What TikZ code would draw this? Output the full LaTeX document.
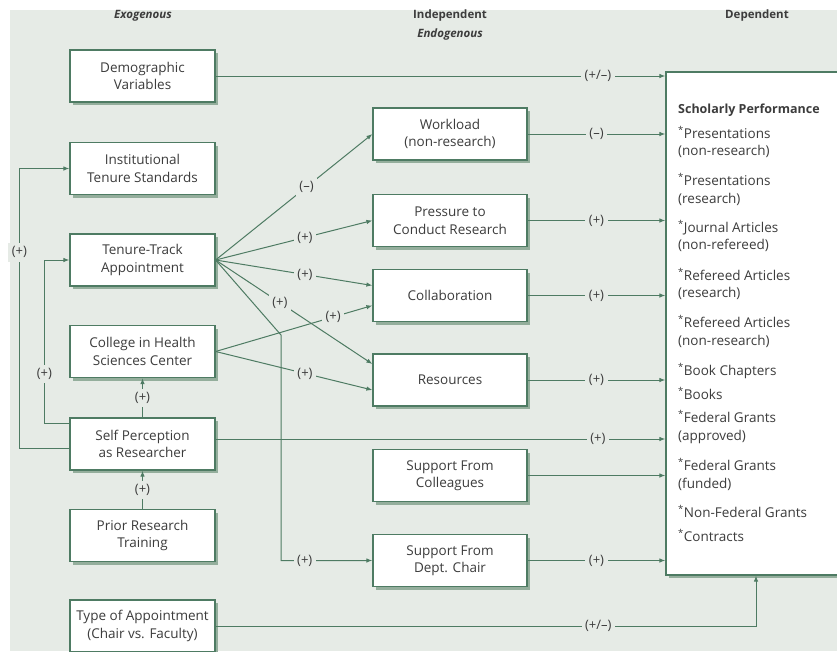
\documentclass[tikz,border=0pt]{standalone}
\usepackage{fontspec}
\setmainfont{Open Sans}
\usetikzlibrary{arrows.meta, shadows}

\definecolor{bggreen}{HTML}{E6EBE6}
\definecolor{linegreen}{HTML}{4E7B63}
\definecolor{shadowgreen}{HTML}{94AE9C}
\definecolor{txtgray}{HTML}{3C3C3C}

\tikzset{
  varbox/.style={draw=linegreen, line width=1.2pt, fill=white, align=center, minimum height=52pt, text=txtgray, font=\fontsize{13.5}{17.5}\selectfont, drop shadow={shadow xshift=3pt, shadow yshift=-3pt, fill=shadowgreen, opacity=1}},
  leftbox/.style={varbox, minimum width=145pt},
  midbox/.style={varbox, minimum width=154pt},
  link/.style={draw=linegreen, line width=1pt, -{Latex[length=6pt,width=4.5pt]}},
  sign/.style={fill=bggreen, text=txtgray, inner sep=3.5pt, font=\fontsize{13}{15}\selectfont},
  heading/.style={text=txtgray, font=\fontsize{11.5}{13}\selectfont\bfseries},
  perfline/.style={anchor=west, inner sep=0pt, text=txtgray, font=\fontsize{13.5}{16}\selectfont, text height=10pt, text depth=3pt}
}

\begin{document}
\begin{tikzpicture}[x=1pt, y=-1pt]
        \useasboundingbox (0,0) rectangle (837,651);
        \fill[bggreen] (10,10) rectangle (837,651);

        % Headings
        \node[heading] (hexo) at (143,16) {\itshape Exogenous};
        \node[heading] (hind) at (450,16) {Independent};
        \node[heading] (hendo) at (450,35) {\itshape Endogenous};
        \node[heading] (hdep) at (757,16) {Dependent};

        % Exogenous
        \node[leftbox] (demo) at (142.5,76) {Demographic\\Variables};
        \node[leftbox] (inst) at (142.5,168.5) {Institutional\\Tenure Standards};
        \node[leftbox] (tenure) at (142.5,260) {Tenure-Track\\Appointment};
        \node[leftbox] (college) at (142.5,351.5) {College in Health\\Sciences Center};
        \node[leftbox] (self) at (142.5,444) {Self Perception\\as Researcher};
        \node[leftbox] (prior) at (142.5,535.5) {Prior Research\\Training};
        \node[leftbox] (type) at (142.5,626) {Type of Appointment\\(Chair vs. Faculty)};

        % Endogenous
        \node[midbox] (work) at (450,134) {Workload\\(non-research)};
        \node[midbox] (press) at (450,220.5) {Pressure to\\Conduct Research};
        \node[midbox] (collab) at (450,295.5) {Collaboration};
        \node[midbox] (res) at (450,380) {Resources};
        \node[midbox] (colleag) at (450,475.5) {Support From\\Colleagues};
        \node[midbox] (chair) at (450,560.5) {Support From\\Dept. Chair};

        % Dependent
        \node[varbox, minimum width=200pt, minimum height=503pt] (perf) at (766,323.5) {};
        \foreach \yy/\txt [count=\i] in {110/{\fontsize{12.5}{15}\selectfont\textbf{Scholarly Performance}},
            135/{\textsuperscript{*}Presentations}, 152/{(non-research)},
            182/{\textsuperscript{*}Presentations}, 200/{(research)},
            229/{\textsuperscript{*}Journal Articles}, 246/{(non-refereed)},
            277/{\textsuperscript{*}Refereed Articles}, 294/{(research)},
            324/{\textsuperscript{*}Refereed Articles}, 342/{(non-research)},
            372/{\textsuperscript{*}Book Chapters}, 396/{\textsuperscript{*}Books},
            419/{\textsuperscript{*}Federal Grants}, 437/{(approved)},
            467/{\textsuperscript{*}Federal Grants}, 485/{(funded)},
            514/{\textsuperscript{*}Non-Federal Grants}, 538/{\textsuperscript{*}Contracts}}
          \node[perfline] (p\i) at (678,\yy) {\txt};

        % Tenure-track fan
        \coordinate (bend) at (281,335);
        \draw[link] (tenure.east) -- node[sign, pos=0.58] {(–)} (work.west);
        \draw[link] (tenure.east) -- node[sign, pos=0.57] {(+)} (press.west);
        \draw[link] (tenure.east) -- node[sign, pos=0.57] {(+)} ([yshift=10pt]collab.west);
        \draw[link] (tenure.east) -- node[sign, pos=0.41] {(+)} ([yshift=16pt]res.west);
        \draw[link] (tenure.east) -- (bend) |- node[sign, pos=0.63] {(+)} (chair.west);

        % College
        \draw[link] (college.east) -- node[sign, pos=0.75] {(+)} ([yshift=-10pt]collab.west);
        \draw[link] (college.east) -- node[sign, pos=0.57] {(+)} ([yshift=-10pt]res.west);

        % Self perception
        \draw[link] (self.north) -- node[sign] {(+)} (college.south);
        \draw[link] (prior.north) -- node[sign] {(+)} (self.south);
        \draw[link] ([yshift=21pt]self.west) -- ++(-25,0) |- node[sign, pos=0.15] {(+)} (tenure.west);
        \draw[link] ([yshift=-4pt]self.west) -- ++(-50,0) |- node[sign, pos=0.35] {(+)} (inst.west);

        % Into scholarly performance
        \draw[link] (demo.east) -- node[sign, pos=0.85] {(+/–)} (demo.east -| perf.west);
        \draw[link] (work.east) -- node[sign] {(–)} (work.east -| perf.west);
        \draw[link] (press.east) -- node[sign] {(+)} (press.east -| perf.west);
        \draw[link] (collab.east) -- node[sign] {(+)} (collab.east -| perf.west);
        \draw[link] (res.east) -- node[sign] {(+)} (res.east -| perf.west);
        \draw[link] ([yshift=5pt]self.east) -- node[sign, pos=0.85] {(+)} ([yshift=5pt]self.east -| perf.west);
        \draw[link] (colleag.east) -- (colleag.east -| perf.west);
        \draw[link] (chair.east) -- node[sign] {(+)} (chair.east -| perf.west);
        \draw[link] (type.east) -| node[sign, pos=0.354] {(+/–)} ([xshift=-10pt]perf.south);

\end{tikzpicture}
\end{document}
